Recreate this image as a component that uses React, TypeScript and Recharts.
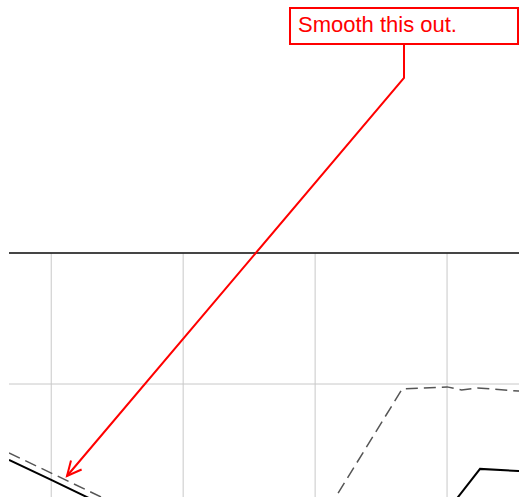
import { LineChart, Line, CartesianGrid, XAxis, YAxis, ReferenceLine } from 'recharts';

const xTicks = [10, 20, 30, 40, 50];
const yTicks = [-50, 0, 50, 100];
const xDomain = [6.8, 50];

const solidX = [6.8, 10, 18.2, 26, 34, 38.7, 42.5, 45.4, 50];
const solidY = [21.0, 13.4, -6.5, -15, -14, -6.9, 17.6, 16.8, 17.0];

const dashedX = [6.8, 10, 18.2, 24, 29.2, 36.6, 40, 41.1, 42.3, 45.4, 50];
const dashedY = [23.7, 16.0, -3.8, -10, -12.5, 48.1, 48.9, 47.7, 48.5, 47.3, 47.8];

const noteText = 'Smooth this out.';

const solidData = solidX.map((x, i) => ({ x, y: solidY[i] }));
const dashedData = dashedX.map((x, i) => ({ x, y: dashedY[i] }));

// only the tick lines, no line at the left edge of the plot
const verticalLines = (props: any) => {
    const sc = props?.xAxis?.scale;
    if (typeof sc === 'function') return xTicks.map((t) => sc(t));
    const off = props.offset;
    return xTicks.map((t) => off.left + ((t - xDomain[0]) * off.width) / (xDomain[1] - xDomain[0]));
};

function Annotation() {
    const tip = { x: 67, y: 476 };
    const bend = { x: 404, y: 78 };
    const dx = bend.x - tip.x;
    const dy = bend.y - tip.y;
    const len = Math.sqrt(dx * dx + dy * dy);
    const ux = dx / len;
    const uy = dy / len;
    const head = (ang: number) => {
        const c = Math.cos(ang), s = Math.sin(ang);
        return { x: tip.x + 16 * (ux * c - uy * s), y: tip.y + 16 * (ux * s + uy * c) };
    };
    const a = head(0.45);
    const b = head(-0.45);
    return (
        <svg width={519} height={497} style={{ position: 'absolute', left: 0, top: 0, pointerEvents: 'none' }}>
            <rect x={290} y={8} width={228} height={36} fill="#fff" stroke="#ff0000" strokeWidth={2} />
            <text x={298} y={32} fill="#ff0000" fontSize={22} fontFamily="'Liberation Sans', Arial, sans-serif">
                {noteText}
            </text>
            <polyline points={`404,45 ${bend.x},${bend.y} ${tip.x},${tip.y}`} fill="none" stroke="#ff0000" strokeWidth={2} />
            <polyline points={`${a.x},${a.y} ${tip.x},${tip.y} ${b.x},${b.y}`} fill="none" stroke="#ff0000" strokeWidth={2} />
        </svg>
    );
}

export default function App() {
    return (
        <div style={{ position: 'fixed', left: 0, top: 0, width: 519, height: 497, overflow: 'hidden', background: '#fff' }}>
            <LineChart width={579} height={646} margin={{ top: 253, right: 0, bottom: 0, left: 9 }}>
                <CartesianGrid stroke="#c8c8c8" verticalCoordinatesGenerator={verticalLines} />
                <XAxis type="number" dataKey="x" domain={xDomain} ticks={xTicks} hide allowDataOverflow />
                <YAxis type="number" dataKey="y" domain={[-50, 100]} ticks={yTicks} hide allowDataOverflow />
                <ReferenceLine y={100} stroke="#111" strokeWidth={1.5} />
                <Line data={dashedData} dataKey="y" type="linear" stroke="#555" strokeWidth={1.5}
                    strokeDasharray="12 6" dot={false} isAnimationActive={false} />
                <Line data={solidData} dataKey="y" type="linear" stroke="#000" strokeWidth={2}
                    dot={false} isAnimationActive={false} />
            </LineChart>
            <Annotation />
        </div>
    );
}
